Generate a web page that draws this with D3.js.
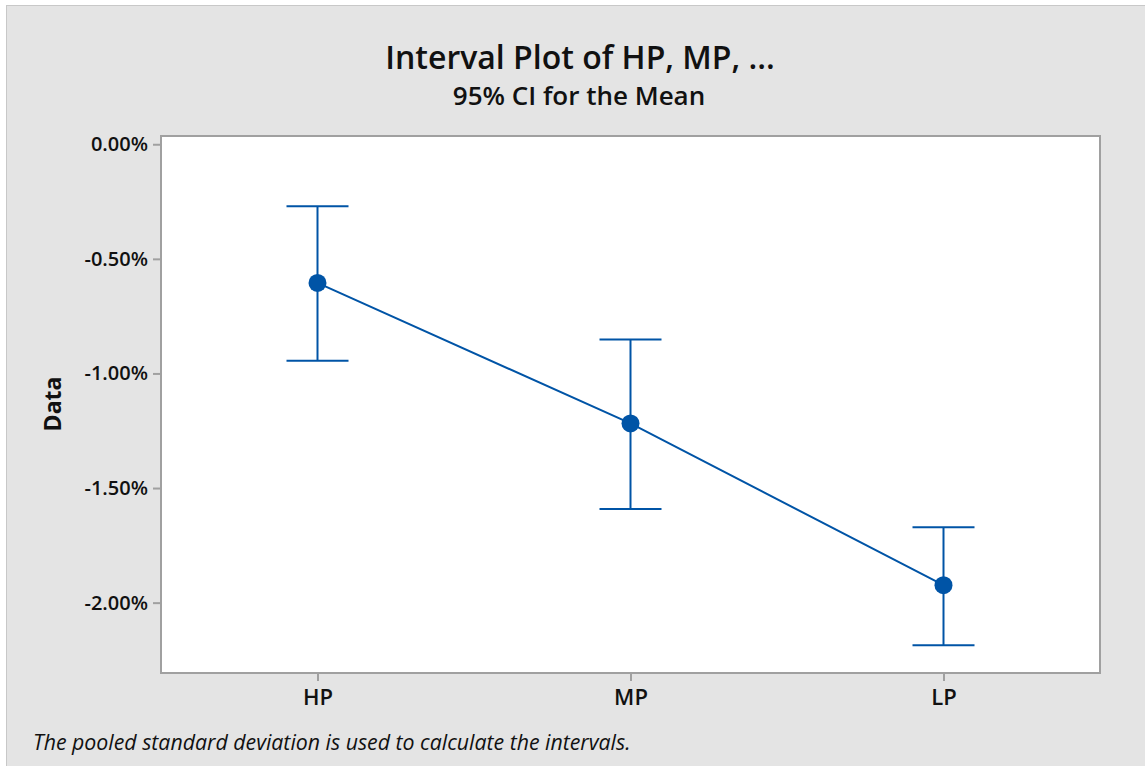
<!DOCTYPE html>
<html>
<head>
<meta charset="utf-8">
<script src="https://cdn.jsdelivr.net/npm/d3@7"></script>
<style>
  body { margin: 0; background: #fff; }
  text { font-family: "Open Sans", sans-serif; }
</style>
</head>
<body>
<div id="vis"></div>
<script>
var width = 1145;
var height = 766;

// data (values in %)
var groups = ["HP", "MP", "LP"];
var means = [-0.605, -1.218, -1.924];
var upper = [-0.27, -0.852, -1.671];
var lower = [-0.945, -1.591, -2.186];
var yTicks = [0, -0.5, -1.0, -1.5, -2.0];

var blue = "#0054a6";
var axisGray = "#a0a0a0";

var plot = {left: 161, top: 136, right: 1100, bottom: 673};

var svg = d3.select("#vis")
            .append("svg")
            .attr("width", width)
            .attr("height", height);

// figure background
svg.append("rect")
    .attr("x", 6.5)
    .attr("y", 5.5)
    .attr("width", width)
    .attr("height", height)
    .style("fill", "#e4e4e4")
    .style("stroke", "#c8c8c8")
    .style("stroke-width", 1);

svg.append("rect")
    .attr("x", plot.left)
    .attr("y", plot.top)
    .attr("width", plot.right - plot.left)
    .attr("height", plot.bottom - plot.top)
    .style("fill", "#fff");

var x = d3.scalePoint()
    .domain(groups)
    .range([plot.left, plot.right])
    .padding(0.5);

var y = d3.scaleLinear()
    .domain([0.036, -2.307])
    .range([plot.top, plot.bottom]);

// axes
var yAxis = d3.axisLeft(y)
    .tickValues(yTicks)
    .tickSize(8)
    .tickPadding(5)
    .tickFormat(d => d3.format(".2f")(d).replace("\u2212", "-") + "%");

var gy = svg.append("g")
    .attr("transform", `translate(${plot.left}, 0)`)
    .call(yAxis);

var xAxis = d3.axisBottom(x)
    .tickSize(8)
    .tickPadding(8);

var gx = svg.append("g")
    .attr("transform", `translate(0, ${plot.bottom})`)
    .call(xAxis);

[gx, gy].forEach(g => {
  g.select(".domain").remove();
  g.selectAll(".tick line").style("stroke", axisGray).style("stroke-width", 2);
  g.selectAll(".tick text")
    .style("font-family", "'Open Sans', sans-serif")
    .style("font-weight", 600)
    .style("fill", "#111");
});
gy.selectAll(".tick text").style("font-size", "20px");
gx.selectAll(".tick text").style("font-size", "22px");

// frame
svg.append("rect")
    .attr("x", plot.left)
    .attr("y", plot.top)
    .attr("width", plot.right - plot.left)
    .attr("height", plot.bottom - plot.top)
    .style("fill", "none")
    .style("stroke", axisGray)
    .style("stroke-width", 2);

// mean connect line
var line = d3.line()
    .x((d, i) => x(groups[i]))
    .y(d => y(d));

svg.append("path")
    .datum(means)
    .attr("d", line)
    .style("fill", "none")
    .style("stroke", blue)
    .style("stroke-width", 2);

// intervals
var capHalf = 31;
var bars = svg.selectAll(".interval")
    .data(groups)
    .enter()
    .append("g")
    .attr("class", "interval")
    .style("stroke", blue)
    .style("stroke-width", 2);

bars.append("line")
    .attr("x1", d => x(d))
    .attr("x2", d => x(d))
    .attr("y1", (d, i) => y(upper[i]))
    .attr("y2", (d, i) => y(lower[i]));

bars.append("line")
    .attr("x1", d => x(d) - capHalf)
    .attr("x2", d => x(d) + capHalf)
    .attr("y1", (d, i) => y(upper[i]))
    .attr("y2", (d, i) => y(upper[i]));

bars.append("line")
    .attr("x1", d => x(d) - capHalf)
    .attr("x2", d => x(d) + capHalf)
    .attr("y1", (d, i) => y(lower[i]))
    .attr("y2", (d, i) => y(lower[i]));

svg.selectAll(".mean")
    .data(means)
    .enter()
    .append("circle")
    .attr("class", "mean")
    .attr("cx", (d, i) => x(groups[i]))
    .attr("cy", d => y(d))
    .attr("r", 9)
    .style("fill", blue);

// titles
svg.append("text")
    .attr("x", 580)
    .attr("y", 69)
    .attr("text-anchor", "middle")
    .style("font-size", "32px")
    .style("font-weight", 600)
    .style("fill", "#111")
    .text("Interval Plot of HP, MP, ...");

svg.append("text")
    .attr("x", 579)
    .attr("y", 105)
    .attr("text-anchor", "middle")
    .style("font-size", "26px")
    .style("font-weight", 600)
    .style("fill", "#111")
    .text("95% CI for the Mean");

svg.append("text")
    .attr("transform", "translate(61, 404) rotate(-90)")
    .attr("text-anchor", "middle")
    .style("font-size", "23px")
    .style("font-weight", 700)
    .style("fill", "#111")
    .text("Data");

svg.append("text")
    .attr("x", 33)
    .attr("y", 750)
    .style("font-size", "21.3px")
    .style("font-style", "italic")
    .style("fill", "#111")
    .text("The pooled standard deviation is used to calculate the intervals.");
</script>
</body>
</html>
